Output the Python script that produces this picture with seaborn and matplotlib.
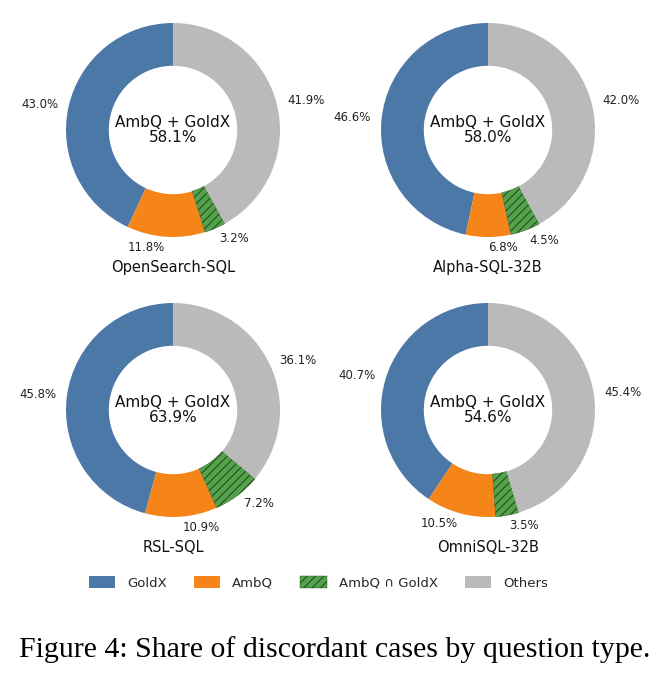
import matplotlib
matplotlib.use("Agg")
import matplotlib.pyplot as plt
from matplotlib.patches import Patch
import seaborn as sns

# Shares (%) per system, in wedge order
systems = ["OpenSearch-SQL", "Alpha-SQL-32B", "RSL-SQL", "OmniSQL-32B"]
categories = ["GoldX", "AmbQ", "AmbQ ∩ GoldX", "Others"]
goldx = [43.0, 46.6, 45.8, 40.7]
ambq = [11.8, 6.8, 10.9, 10.5]
both = [3.2, 4.5, 7.2, 3.5]
others = [41.9, 42.0, 36.1, 45.4]
center_share = [58.1, 58.0, 63.9, 54.6]

colors = ["#4C78A8", "#F58518", "#54A24B", "#BABABA"]
hatch_color = "#24501F"

sns.set_style("white")
plt.rcParams["font.family"] = ["DejaVu Sans"]
plt.rcParams["hatch.linewidth"] = 0.8

W, H = 669, 681
fig = plt.figure(figsize=(W / 100, H / 100), dpi=100)

centers = [(173, 130), (488, 130), (173, 410), (488, 410)]
R = 107

for i, name in enumerate(systems):
    cx, cy = centers[i]
    ax = fig.add_axes([(cx - R) / W, (H - cy - R) / H, 2 * R / W, 2 * R / H])
    vals = [goldx[i], ambq[i], both[i], others[i]]
    labels = [f"{v:.1f}%" for v in vals]
    wedges, texts = ax.pie(vals, labels=labels, colors=colors, startangle=90,
                           counterclock=True, labeldistance=1.1,
                           wedgeprops=dict(width=0.4, linewidth=0),
                           textprops=dict(fontsize=8.5, color="#222222"))
    wedges[2].set_hatch("////")
    wedges[2].set_edgecolor(hatch_color)
    wedges[2].set_linewidth(0.3)
    ax.set_xlim(-1, 1)
    ax.set_ylim(-1, 1)
    ax.set_aspect("equal")
    ax.axis("off")
    ax.text(0, 0, f"AmbQ + GoldX\n{center_share[i]:.1f}%", ha="center", va="center",
            fontsize=11, color="#111111", linespacing=1.05)
    fig.text(cx / W, 1 - (cy + 138) / H, name, ha="center", va="center",
             fontsize=10.5, color="#111111")

handles = [Patch(facecolor=colors[0], edgecolor="none"),
           Patch(facecolor=colors[1], edgecolor="none"),
           Patch(facecolor=colors[2], edgecolor=hatch_color, hatch="////", linewidth=0.3),
           Patch(facecolor=colors[3], edgecolor="none")]
fig.legend(handles, categories, loc="center", bbox_to_anchor=(0.476, 1 - 583 / H),
           ncol=4, frameon=False, fontsize=9.5, handlelength=2.0, handleheight=1.0,
           handletextpad=0.9, columnspacing=2.05)

fig.text(0.5, 1 - 650 / H, "Figure 4: Share of discordant cases by question type.",
         ha="center", va="center", fontsize=21.5,
         family=["Liberation Serif", "DejaVu Serif"], color="black")

fig.savefig("out.png", dpi=100, facecolor="white")
